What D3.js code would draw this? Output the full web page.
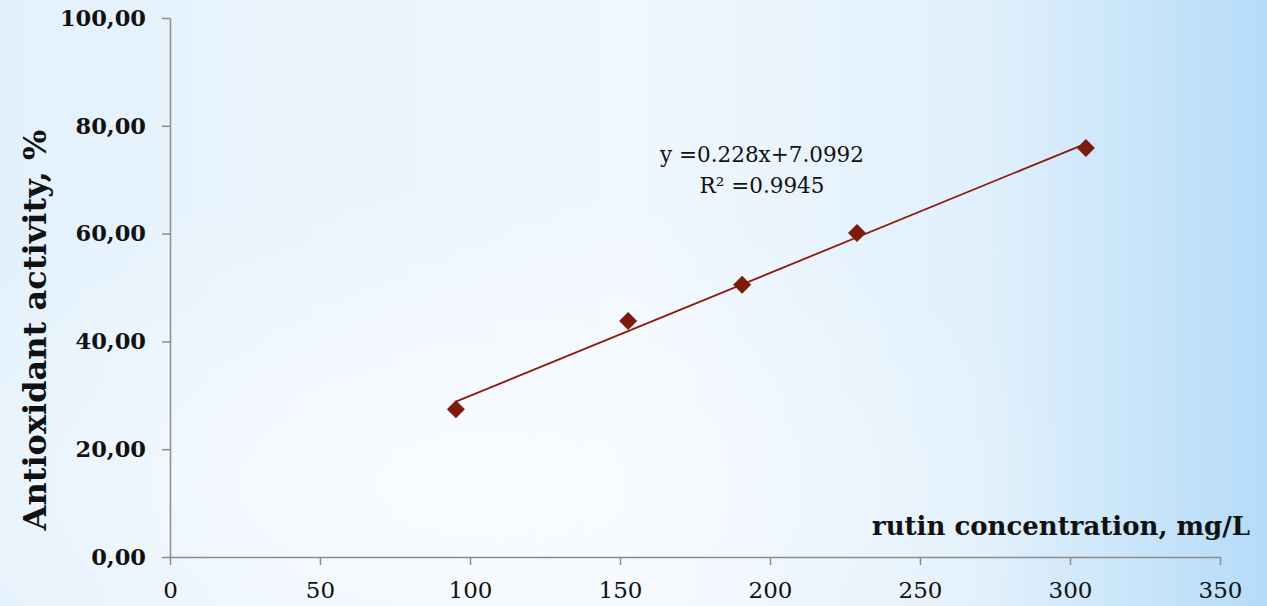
<!DOCTYPE html>
<html lang="en">
<head>
    <meta charset="UTF-8">
    <title>Antioxidant activity vs rutin concentration</title>
    <script src="https://d3js.org/d3.v7.min.js"></script>
    <style>
        body { margin: 0; overflow: hidden; }
        svg { display: block; }
        .axis path, .axis line { stroke: #8c8c8c; stroke-width: 1.5px; }
        .yaxis text { font-family: "DejaVu Serif", serif; font-weight: bold; font-size: 22.5px; fill: #111; }
        .xaxis text { font-family: "DejaVu Serif", serif; font-size: 23px; fill: #111; }
        .title { font-family: "DejaVu Serif", serif; font-weight: bold; fill: #111; }
        .eq { font-family: "DejaVu Serif", serif; font-size: 21.5px; fill: #111; }
    </style>
</head>
<body>
<svg width="1267" height="606"></svg>
<script>
    // data
    const concentration = [95.3, 152.7, 190.7, 229, 305.3];
    const activity = [27.4, 43.8, 50.5, 60.1, 75.9];
    const slope = 0.228, intercept = 7.0992;
    const eqLines = ["y =0.228x+7.0992", "R² =0.9945"];
    const xTicks = [0, 50, 100, 150, 200, 250, 300, 350];
    const yTicks = [0, 20, 40, 60, 80, 100];

    const width = 1267, height = 606;
    const svg = d3.select("svg");

    // background
    const defs = svg.append("defs");
    const lin = defs.append("linearGradient").attr("id", "bgLin");
    lin.append("stop").attr("offset", "0%").attr("stop-color", "#e3f1fc");
    lin.append("stop").attr("offset", "50%").attr("stop-color", "#f0f7fe");
    lin.append("stop").attr("offset", "78%").attr("stop-color", "#e0f0fc");
    lin.append("stop").attr("offset", "100%").attr("stop-color", "#b5dbf8");
    const rad = defs.append("radialGradient").attr("id", "bgRad")
        .attr("cx", "35%").attr("cy", "80%").attr("r", "50%");
    rad.append("stop").attr("offset", "0%").attr("stop-color", "#ffffff").attr("stop-opacity", 0.7);
    rad.append("stop").attr("offset", "100%").attr("stop-color", "#ffffff").attr("stop-opacity", 0);
    svg.append("rect").attr("width", width).attr("height", height).attr("fill", "url(#bgLin)");
    svg.append("rect").attr("width", width).attr("height", height).attr("fill", "url(#bgRad)");

    const x = d3.scaleLinear().domain([0, 350]).range([170, 1220]);
    const y = d3.scaleLinear().domain([0, 100]).range([557, 18]);
    const fmt = d => d3.format(".2f")(d).replace(".", ",");

    svg.append("g").attr("class", "axis yaxis")
        .attr("transform", `translate(${x(0)},0)`)
        .call(d3.axisLeft(y).tickValues(yTicks).tickFormat(fmt).tickSize(8).tickSizeOuter(0).tickPadding(16));

    svg.append("g").attr("class", "axis xaxis")
        .attr("transform", `translate(0,${y(0)})`)
        .call(d3.axisBottom(x).tickValues(xTicks).tickFormat(d3.format("d")).tickSize(8).tickSizeOuter(0).tickPadding(17));

    // trend line over the data range
    const xr = d3.extent(concentration);
    svg.append("line")
        .attr("x1", x(xr[0])).attr("y1", y(slope * xr[0] + intercept))
        .attr("x2", x(xr[1])).attr("y2", y(slope * xr[1] + intercept))
        .attr("stroke", "#8e1a0c").attr("stroke-width", 1.8);

    // markers
    svg.selectAll(".pt")
        .data(concentration.map((c, i) => [c, activity[i]]))
        .enter().append("path")
        .attr("class", "pt")
        .attr("transform", d => `translate(${x(d[0])},${y(d[1])})`)
        .attr("d", "M0,-9L9,0L0,9L-9,0Z")
        .attr("fill", "#7e1a0b");

    // equation
    svg.append("text").attr("class", "eq")
        .attr("x", 762).attr("y", 162).attr("text-anchor", "middle")
        .text(eqLines[0]);
    svg.append("text").attr("class", "eq")
        .attr("x", 762).attr("y", 193).attr("text-anchor", "middle")
        .text(eqLines[1]);

    // titles
    svg.append("text").attr("class", "title")
        .attr("transform", "translate(46,330) rotate(-90)")
        .attr("text-anchor", "middle")
        .style("font-size", "32px")
        .text("Antioxidant activity, %");
    svg.append("text").attr("class", "title")
        .attr("x", 1250).attr("y", 535).attr("text-anchor", "end")
        .style("font-size", "26px")
        .text("rutin concentration, mg/L");
</script>
</body>
</html>
